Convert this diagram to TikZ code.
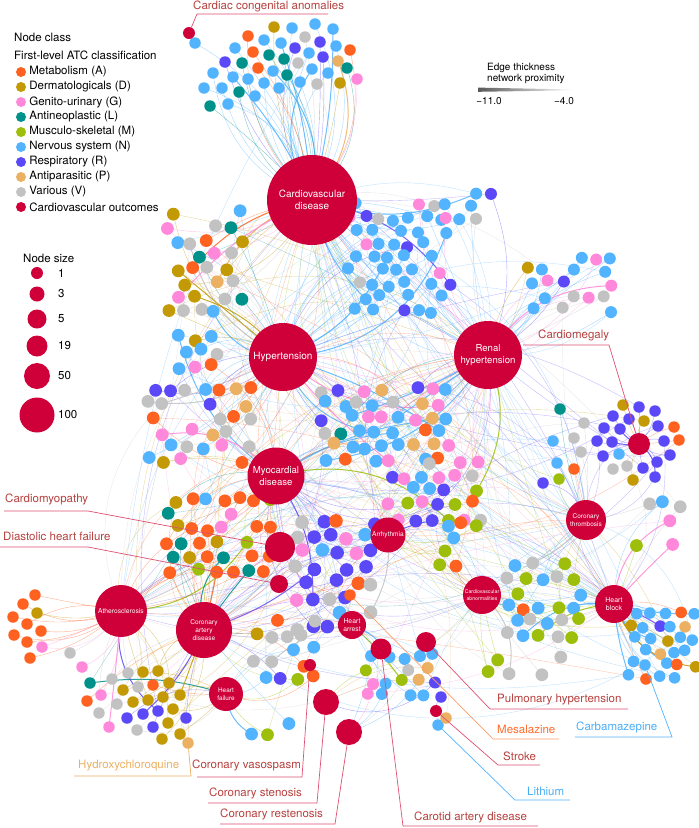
\documentclass[tikz,border=0pt]{standalone}
\usepackage{fontspec}
\setmainfont{TeX Gyre Heros}
\usetikzlibrary{positioning}

\definecolor{metab}{HTML}{FF6121}
\definecolor{derma}{HTML}{C39A05}
\definecolor{genito}{HTML}{FF88DA}
\definecolor{antineo}{HTML}{00918A}
\definecolor{musculo}{HTML}{9DBE0A}
\definecolor{nervous}{HTML}{52B3FF}
\definecolor{respir}{HTML}{5B48F7}
\definecolor{antipara}{HTML}{EBB062}
\definecolor{various}{HTML}{C2C2C2}
\definecolor{cvo}{HTML}{CF0039}
\definecolor{calltext}{HTML}{B5403D}
\definecolor{callline}{HTML}{DE5072}
\definecolor{mesatext}{HTML}{FF6A2B}
\definecolor{mesaline}{HTML}{FF9B66}
\definecolor{bluetext}{HTML}{4AAEF5}

\def\dsz{11.5}
\def\pextra{0.3}
\def\hubAll{{"cvd","cvd","ht","rht","rht","myo","arr","ath","cad","cva","cth","hbl"}}
\def\palLA{{"nervous","nervous","derma","derma","genito","antineo","metab","various","antipara"}}
\def\palCA{{"nervous","nervous","nervous","nervous","nervous","nervous","nervous","respir","genito","various"}}
\def\palRA{{"nervous","nervous","antineo","genito","genito","metab","derma","various","respir"}}
\def\palLM{{"various","various","nervous","nervous","genito","respir","metab","antineo","antipara","derma"}}
\def\palCB{{"nervous","nervous","nervous","genito","genito","various","respir","antipara","antineo","metab"}}
\def\palCM{{"metab","metab","metab","metab","antineo","musculo","derma","nervous","genito"}}
\def\palCV{{"respir","respir","respir","respir","various","various","nervous","genito","metab"}}
\def\palCP{{"genito","genito","genito","respir","various","musculo","metab","antipara","nervous"}}
\def\palCG{{"various","various","respir","nervous","musculo","derma","metab"}}
\def\palCL{{"genito","genito","nervous","nervous","various","antineo","respir","musculo","antipara"}}
\def\palRG{{"musculo","musculo","musculo","nervous","nervous","various","metab"}}
\def\palRS{{"various","various","nervous","genito","musculo"}}
\def\palHB{{"nervous","nervous","nervous","nervous","respir","metab","derma","antipara"}}

\tikzset{
  outcome/.style={circle, fill=cvo, text=white, inner sep=0pt, align=center, minimum size=#1},
  drug/.style={circle, fill=#1, inner sep=0pt, minimum size=\dsz pt},
  link/.style={draw=#1, line width=\lw pt, draw opacity=\op},
  callred/.style={draw=callline, line width=0.7pt},
  calllabel/.style={anchor=base west, inner sep=0pt, font=\fontsize{11.5}{13}\selectfont, text=calltext},
  legtext/.style={anchor=west, inner sep=0pt, font=\fontsize{11.5}{13}\selectfont},
  legdot/.style={circle, fill=#1, inner sep=0pt, minimum size=10pt}
}

\newif\ifedgepass

% one drug: links in the first pass, the dot in the second
\newcommand{\drugnode}[5]{%
  \pgfmathsetmacro\bendang{35*rand}%
  \pgfmathsetmacro\lw{rnd<0.16 ? 1.0 : 0.4}%
  \pgfmathsetmacro\op{\lw>0.5 ? 0.85 : 0.5}%
  \pgfmathsetmacro\extra{rnd}%
  \pgfmathrandominteger{\xhi}{0}{11}%
  \pgfmathsetmacro\xhub{\hubAll[\xhi]}%
  \pgfmathsetmacro\bendtwo{40*rand}%
  \ifedgepass
    \coordinate (#1) at (#2,#3);
    \draw[link=#4] (#1) to[bend left=\bendang] (#5);
    \ifdim\extra pt<\pextra pt
      \draw[link=#4, line width=0.35pt, draw opacity=0.4] (#1) to[bend right=\bendtwo] (\xhub);
    \fi
  \else
    \node[drug=#4] (#1) at (#2,#3) {};
  \fi
}

% packed group: name, cx, cy, cols, rows, keep, palette, hubs, spacing
\newcommand{\drugcluster}[9]{%
  \begingroup
  \pgfmathtruncatemacro\npal{dim(#7)-1}%
  \pgfmathtruncatemacro\nhub{dim(#8)-1}%
  \pgfmathsetmacro\dsz{0.8*#9}%
  \foreach \rr in {1,...,#5}{%
    \foreach \cc in {1,...,#4}{%
      \pgfmathsetmacro\keepit{rnd}%
      \pgfmathrandominteger{\ci}{0}{\npal}%
      \pgfmathsetmacro\dcol{#7[\ci]}%
      \pgfmathrandominteger{\hi}{0}{\nhub}%
      \pgfmathsetmacro\dhub{#8[\hi]}%
      \pgfmathsetmacro\dx{#2+(\cc-(#4+1)/2+0.5*mod(\rr,2))*#9+3*rand}%
      \pgfmathsetmacro\dy{#3+(\rr-(#5+1)/2)*0.88*#9+3*rand}%
      \ifdim\keepit pt<#6pt
        \drugnode{#1-\rr-\cc}{\dx}{\dy}{\dcol}{\dhub}%
      \fi
    }%
  }%
  \endgroup
}

\newcommand{\alldrugs}{%
  \def\pextra{0.05}%
  \foreach \x/\y/\c [count=\i] in {195/43/nervous, 274/27/derma, 292/28/nervous, 315/24/nervous,
    305/37/various, 248/36/metab, 264/40/nervous, 281/43/nervous, 295/48/respir, 320/42/respir,
    333/29/nervous, 336/46/nervous, 235/48/nervous, 253/52/metab, 269/55/antineo, 284/59/antineo,
    309/53/nervous, 323/57/respir, 338/61/antipara, 225/62/respir, 242/63/antineo, 258/68/metab,
    273/71/nervous, 287/75/antineo, 298/63/various, 312/69/nervous, 328/73/nervous, 213/73/nervous,
    233/77/nervous, 248/79/nervous, 264/83/nervous, 279/88/nervous, 300/82/nervous, 317/84/various,
    340/83/derma, 204/88/nervous, 222/88/nervous, 239/92/antineo, 255/96/nervous, 210/106/antineo,
    228/104/nervous, 350/50/metab, 347/68/antineo, 357/79/genito}
    {\drugnode{top\i}{\x}{\y}{\c}{cvd}}
  \def\pextra{0.6}%
  \foreach \x/\y/\c [count=\i] in {623/405/derma, 639/407/respir, 655/411/respir, 613/416/respir,
    629/419/respir, 644/421/derma, 658/426/respir, 674/427/metab, 604/428/respir, 620/429/respir,
    679/440/metab, 597/441/respir, 612/442/respir, 664/441/respir, 603/456/respir, 619/454/nervous,
    670/455/respir, 657/462/respir, 627/466/various, 613/469/various, 643/468/respir, 633/480/derma,
    655/477/respir}
    {\drugnode{mega\i}{\x}{\y}{\c}{cmg}}
  \foreach \x/\y/\c [count=\i] in {560/409/antineo, 584/423/various, 574/438/various, 553/441/nervous,
    581/452/various, 557/463/nervous, 574/469/metab, 559/479/musculo, 543/483/respir}
    {\drugnode{thr\i}{\x}{\y}{\c}{cth}}
  \def\pextra{0.25}%
  \foreach \x/\y/\c [count=\i] in {35/595/metab, 23/604/metab, 37/613/derma, 13/617/metab,
    27/624/metab, 41/631/metab, 14/635/metab, 27/642/metab, 42/647/genito, 30/658/metab,
    70/653/various, 82/667/genito}
    {\drugnode{ath\i}{\x}{\y}{\c}{ath}}
  \def\pextra{0.4}%
  \foreach \x/\y/\c [count=\i] in {112/679/various, 128/673/various, 143/672/derma, 158/671/derma,
    169/683/derma, 90/683/antineo, 123/690/derma, 138/687/various, 153/685/metab, 180/695/derma,
    101/695/genito, 117/704/various, 133/702/derma, 148/700/derma, 163/697/derma, 87/701/metab,
    99/713/various, 127/718/respir, 143/714/respir, 158/711/respir, 173/709/derma, 186/718/respir,
    109/727/genito, 137/730/various, 153/727/respir, 168/723/derma, 180/734/derma, 162/739/derma}
    {\pgfmathsetmacro\bhub{{"hf","cad","ath"}[mod(\i,3)]}%
     \drugnode{low\i}{\x}{\y}{\c}{\bhub}}
  \def\pextra{0.7}%
  \drugcluster{la}{200}{262}{5}{8}{0.7}{\palLA}{{"cvd","ht"}}{16}%
  \drugcluster{lb}{195}{352}{4}{3}{0.7}{\palLA}{{"ht","myo"}}{16}%
  \drugcluster{ca}{395}{258}{7}{9}{0.8}{\palCA}{{"cvd","rht","ht"}}{15}%
  \drugcluster{cb}{462}{205}{4}{3}{0.7}{\palCA}{{"cvd","rht"}}{15}%
  \drugcluster{ra}{565}{283}{6}{5}{0.7}{\palRA}{{"rht","rht"}}{15}%
  \drugcluster{lm}{195}{425}{7}{6}{0.65}{\palLM}{{"ht","myo"}}{16}%
  \drugcluster{ma}{375}{425}{9}{6}{0.75}{\palCB}{{"rht","ht","myo"}}{16}%
  \drugcluster{mb}{215}{535}{7}{6}{0.8}{\palCM}{{"ath","cmp","myo","cad"}}{16}%
  \drugcluster{mc}{330}{575}{5}{8}{0.85}{\palCV}{{"cmp","myo","arr","cad","dhf"}}{17}%
  \drugcluster{md}{430}{490}{6}{5}{0.8}{\palCP}{{"arr","rht","myo"}}{16}%
  \drugcluster{me}{280}{650}{4}{5}{0.75}{\palCG}{{"cad","hf","har"}}{16}%
  \drugcluster{mf}{395}{676}{5}{4}{0.7}{\palCL}{{"har","cst","crs","carot"}}{15}%
  \drugcluster{rg}{540}{600}{5}{6}{0.8}{\palRG}{{"cva","hbl","cth"}}{16}%
  \drugcluster{rh}{455}{545}{3}{4}{0.7}{\palRG}{{"arr","cva"}}{16}%
  \drugcluster{ri}{515}{665}{6}{2}{0.6}{\palRS}{{"cva","cva"}}{16}%
  \drugcluster{rj}{655}{525}{3}{4}{0.6}{\palRS}{{"cth","hbl"}}{16}%
  \drugcluster{hb}{658}{645}{5}{6}{0.85}{\palHB}{{"hbl","hbl"}}{14.5}%
  \drugcluster{bc}{265}{728}{3}{2}{0.6}{\palRG}{{"cad","hf"}}{16}%
  \def\pextra{0.2}%
  \drugnode{mesa}{350}{595}{metab}{cmp}%
  \drugnode{hcq}{188}{743}{antipara}{cad}%
  \drugnode{carb}{645}{665}{nervous}{hbl}%
  \drugnode{lith}{438}{725}{nervous}{stk}%
  \drugnode{stk1}{441}{697}{respir}{stk}%
  \drugnode{stk2}{446}{718}{antipara}{stk}%
}

\begin{document}
\begin{tikzpicture}[x=1pt,y=-1pt]
\useasboundingbox (0,0) rectangle (699,828);

% outcome positions
\foreach \n/\x/\y in {cvd/312/200, ht/283/357, rht/488/355, myo/276/476, ath/121/611,
  cad/204/630, hf/226/694, cmp/280/547, dhf/279/584, arr/388/535, cva/482/595, cth/586/520,
  hbl/614/604, har/352/625, cmg/639/444, pht/426/642, carot/381/649, cvs/310/665,
  cst/326/702, crs/349/732, stk/436/711, cca/189/33}
  {\coordinate (\n) at (\x,\y);}

% drugs: links first, then dots
\pgfmathsetseed{11}
\edgepasstrue
\alldrugs
\pgfmathsetseed{11}
\edgepassfalse
\alldrugs

% cardiovascular outcomes
\node[outcome=90pt, font=\fontsize{10}{12}\selectfont] (cvd) at (cvd) {Cardiovascular\\disease};
\node[outcome=68pt, font=\fontsize{10}{12}\selectfont] (ht) at (ht) {Hypertension};
\node[outcome=68pt, font=\fontsize{9.6}{11.5}\selectfont] (rht) at (rht) {Renal\\hypertension};
\node[outcome=57pt, font=\fontsize{9.6}{11.5}\selectfont] (myo) at (myo) {Myocardial\\disease};
\node[outcome=52pt, font=\fontsize{6.7}{8}\selectfont] (ath) at (ath) {Atherosclerosis};
\node[outcome=56pt, font=\fontsize{6.6}{8}\selectfont] (cad) at (cad) {Coronary\\artery\\disease};
\node[outcome=34pt, font=\fontsize{6.4}{7.6}\selectfont] (hf) at (hf) {Heart\\failure};
\node[outcome=30pt] (cmp) at (cmp) {};
\node[outcome=18pt] (dhf) at (dhf) {};
\node[outcome=35pt, font=\fontsize{6.6}{8}\selectfont] (arr) at (arr) {Arrhythmia};
\node[outcome=38pt, font=\fontsize{5.2}{6.2}\selectfont] (cva) at (cva) {Cardiovascular\\abnormalities};
\node[outcome=40pt, font=\fontsize{6.5}{7.8}\selectfont] (cth) at (cth) {Coronary\\thrombosis};
\node[outcome=38pt, font=\fontsize{7}{8.4}\selectfont] (hbl) at (hbl) {Heart\\block};
\node[outcome=28pt, font=\fontsize{6.8}{8}\selectfont] (har) at (har) {Heart\\arrest};
\node[outcome=22pt] (cmg) at (cmg) {};
\node[outcome=20pt] (pht) at (pht) {};
\node[outcome=21pt] (carot) at (carot) {};
\node[outcome=12pt] (cvs) at (cvs) {};
\node[outcome=26pt] (cst) at (cst) {};
\node[outcome=26pt] (crs) at (crs) {};
\node[outcome=12pt] (stk) at (stk) {};
\node[outcome=12pt] (cca) at (cca) {};

% callouts
\coordinate (cca-a) at (197,14);
\coordinate (cca-b) at (328,14);
\draw[callred] (cca) -- (cca-a) -- (cca-b);
\node[calllabel] (cca-t) at (193,9) {Cardiac congenital anomalies};

\coordinate (cmg-a) at (523,345);
\coordinate (cmg-b) at (609,345);
\draw[callred] (cmg-a) -- (cmg-b) -- (cmg);
\node[calllabel] (cmg-t) at (538,338) {Cardiomegaly};

\coordinate (cmp-a) at (4,511);
\coordinate (cmp-b) at (88,511);
\draw[callred] (cmp-a) -- (cmp-b) -- (cmp);
\node[calllabel] (cmp-t) at (5,502) {Cardiomyopathy};

\coordinate (dhf-a) at (0,547);
\coordinate (dhf-b) at (88,547);
\draw[callred] (dhf-a) -- (dhf-b) -- (dhf);
\node[calllabel] (dhf-t) at (3,540) {Diastolic heart failure};

\coordinate (hcq-a) at (74,776);
\coordinate (hcq-b) at (191,776);
\draw[draw=antipara, line width=0.7pt] (hcq-a) -- (hcq-b) -- (hcq);
\node[calllabel, text=antipara] (hcq-t) at (78,768) {Hydroxychloroquine};

\coordinate (cvs-a) at (197,777);
\coordinate (cvs-b) at (302,777);
\draw[callred] (cvs-a) -- (cvs-b) -- (cvs);
\node[calllabel] (cvs-t) at (192,768) {Coronary vasospasm};

\coordinate (cst-a) at (208,803);
\coordinate (cst-b) at (317,803);
\draw[callred] (cst-a) -- (cst-b) -- (cst);
\node[calllabel] (cst-t) at (209,796) {Coronary stenosis};

\coordinate (crs-a) at (220,824);
\coordinate (crs-b) at (335,824);
\draw[callred] (crs-a) -- (crs-b) -- (crs);
\node[calllabel] (crs-t) at (220,817) {Coronary restenosis};

\coordinate (pht-a) at (628,709);
\coordinate (pht-b) at (490,709);
\draw[callred] (pht-a) -- (pht-b) -- (pht);
\node[calllabel] (pht-t) at (497,702) {Pulmonary hypertension};

\coordinate (mesa-a) at (559,739);
\coordinate (mesa-b) at (493,739);
\draw[draw=mesaline, line width=0.7pt] (mesa-a) -- (mesa-b) -- (mesa);
\node[calllabel, text=mesatext] (mesa-t) at (497,733) {Mesalazine};

\coordinate (carb-a) at (575,737);
\coordinate (carb-b) at (672,737);
\draw[draw=nervous, line width=0.7pt] (carb-a) -- (carb-b) -- (carb);
\node[calllabel, text=bluetext] (carb-t) at (576,730) {Carbamazepine};

\coordinate (stk-a) at (540,765);
\coordinate (stk-b) at (498,765);
\draw[callred] (stk-a) -- (stk-b) -- (stk);
\node[calllabel] (stk-t) at (503,760) {Stroke};

\coordinate (lith-a) at (570,800);
\coordinate (lith-b) at (515,800);
\draw[draw=nervous, line width=0.7pt] (lith-a) -- (lith-b) -- (lith);
\node[calllabel, text=bluetext] (lith-t) at (527,795) {Lithium};

\coordinate (carot-a) at (538,826);
\coordinate (carot-b) at (403,826);
\draw[callred] (carot-a) -- (carot-b) -- (carot);
\node[calllabel] (carot-t) at (414,820) {Carotid artery disease};

% legends
\node[legtext] (ncl) at (14,37) {Node class};
\node[legtext] (atc) at (14,55) {First-level ATC classification};
\foreach \c/\t [count=\i] in {metab/Metabolism (A), derma/Dermatologicals (D),
  genito/Genito-urinary (G), antineo/Antineoplastic (L), musculo/Musculo-skeletal (M),
  nervous/Nervous system (N), respir/Respiratory (R), antipara/Antiparasitic (P),
  various/Various (V), cvo/Cardiovascular outcomes}
  {\node[legdot=\c] (leg\i) at (21,{57+15*\i}) {};
   \node[legtext, right=3pt of leg\i] {\t};}

\node[legtext] (nsz) at (23,258) {Node size};
\foreach \s/\yy/\t in {12/273/1, 15/294/3, 19/319/5, 21/346/19, 26/376/50, 35/415/100}
  {\node[outcome=\s pt] (sz\t) at (37,\yy) {};
   \node[legtext] at (58,\yy) {\t};}

\node[anchor=base west, inner sep=0pt, font=\fontsize{10}{12}\selectfont] (edg1) at (487,70) {Edge thickness};
\node[anchor=base west, inner sep=0pt, font=\fontsize{10}{12}\selectfont] (edg2) at (487,81) {network proximity};
\shade[left color=black!65, right color=white] (478,87.6) -- (573,89.5) -- (573,90.3) -- (478,91.8) -- cycle;
\node[anchor=base, inner sep=0pt, font=\fontsize{10}{12}\selectfont] (edg3) at (489,104) {\textminus11.0};
\node[anchor=base, inner sep=0pt, font=\fontsize{10}{12}\selectfont] (edg4) at (564,104) {\textminus4.0};
\end{tikzpicture}
\end{document}
